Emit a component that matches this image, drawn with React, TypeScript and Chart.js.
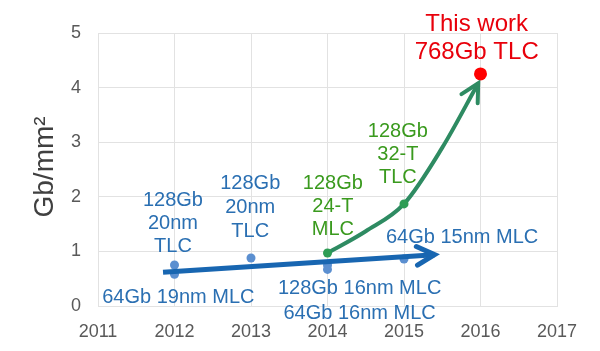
import React, { useEffect, useRef } from "react";
import { Chart, registerables } from "chart.js";

Chart.register(...registerables);

// ---- data ----
const yearTicks = [2011, 2012, 2013, 2014, 2015, 2016, 2017];
const densityTicks = [0, 1, 2, 3, 4, 5];

const blueYears = [2012, 2012, 2013, 2014, 2014, 2015];
const blueValues = [0.75, 0.58, 0.88, 0.75, 0.67, 0.86];

const greenYears = [2014, 2015];
const greenValues = [0.97, 1.87];

const redYears = [2016];
const redValues = [4.25];

const blueTrendYears = [2011.85, 2015.4];
const blueTrendValues = [0.62, 0.94];

const greenTrendYears = [2014, 2014.5, 2015, 2015.5, 2015.97];
const greenTrendValues = [0.97, 1.37, 1.87, 2.9, 4.08];

const labelTexts = [
  ["64Gb 19nm MLC"],
  ["128Gb 16nm MLC"],
  ["64Gb 16nm MLC"],
  ["128Gb", "20nm", "TLC"],
  ["128Gb", "20nm", "TLC"],
  ["128Gb", "24-T", "MLC"],
  ["128Gb", "32-T", "TLC"],
  ["64Gb 15nm MLC"],
  ["This work", "768Gb TLC"],
];
const labelYears = [2012.05, 2014.42, 2014.42, 2011.98, 2012.99, 2014.07, 2014.92, 2015.76, 2015.95];
const labelValues = [0.15, 0.32, -0.13, 1.94, 2.25, 2.25, 3.19, 1.26, 5.15];

const BLUE_TEXT = "#2a6fb2";
const GREEN_TEXT = "#3a9a1e";
const RED = "#e8000b";
const labelColors = [BLUE_TEXT, BLUE_TEXT, BLUE_TEXT, BLUE_TEXT, BLUE_TEXT, GREEN_TEXT, GREEN_TEXT, BLUE_TEXT, RED];
const labelSizes = [20, 20, 20, 20, 20, 20, 20, 20, 24];
const labelLineGaps = [23, 23, 23, 23, 24, 23, 23, 23, 28];

const FONT = "'Liberation Sans', Arial, sans-serif";

const pts = (xs: number[], ys: number[]) => xs.map((x, i) => ({ x, y: ys[i] }));

const arrowPlugin = {
  id: "arrowHeads",
  afterDatasetsDraw(chart: any) {
    const ctx = chart.ctx;
    chart.data.datasets.forEach((ds: any, i: number) => {
      if (!ds.arrow) return;
      const meta = chart.getDatasetMeta(i);
      const els = meta.data;
      const last = els[els.length - 1];
      let px = last.cp1x, py = last.cp1y;
      if (px === undefined || (Math.abs(px - last.x) < 0.5 && Math.abs(py - last.y) < 0.5)) {
        px = els[els.length - 2].x;
        py = els[els.length - 2].y;
      }
      const ang = Math.atan2(last.y - py, last.x - px);
      const len = 20;
      const spread = Math.PI / 6.5;
      ctx.save();
      ctx.strokeStyle = ds.borderColor;
      ctx.lineWidth = ds.borderWidth;
      ctx.lineCap = "round";
      ctx.lineJoin = "miter";
      ctx.beginPath();
      ctx.moveTo(last.x - len * Math.cos(ang - spread), last.y - len * Math.sin(ang - spread));
      ctx.lineTo(last.x, last.y);
      ctx.lineTo(last.x - len * Math.cos(ang + spread), last.y - len * Math.sin(ang + spread));
      ctx.stroke();
      ctx.restore();
    });
  },
};

const labelPlugin = {
  id: "textLabels",
  afterDraw(chart: any) {
    const ctx = chart.ctx;
    const xs = chart.scales.x;
    const ys = chart.scales.y;
    ctx.save();
    ctx.textAlign = "center";
    ctx.textBaseline = "middle";
    labelTexts.forEach((lines, i) => {
      const cx = xs.getPixelForValue(labelYears[i]);
      const cy = ys.getPixelForValue(labelValues[i]);
      ctx.fillStyle = labelColors[i];
      ctx.font = `${labelSizes[i]}px ${FONT}`;
      lines.forEach((t, j) => ctx.fillText(t, cx, cy + j * labelLineGaps[i]));
    });
    // y-axis title
    const area = chart.chartArea;
    const midY = (area.top + area.bottom) / 2;
    ctx.translate(53, midY + 48);
    ctx.rotate(-Math.PI / 2);
    ctx.textAlign = "left";
    ctx.textBaseline = "alphabetic";
    ctx.fillStyle = "#404040";
    ctx.font = `28px ${FONT}`;
    ctx.fillText("Gb/mm²", 0, 0);
    ctx.restore();
  },
};

export default function App() {
  const ref = useRef<HTMLCanvasElement>(null);
  useEffect(() => {
    if (!ref.current) return;
    const chart = new Chart(ref.current, {
      type: "scatter",
      data: {
        datasets: [
          {
            type: "line",
            data: pts(blueTrendYears, blueTrendValues),
            borderColor: "#1866b1",
            borderWidth: 5,
            pointRadius: 0,
            tension: 0,
            fill: false,
            arrow: true,
            order: 2,
          } as any,
          {
            type: "line",
            data: pts(greenTrendYears, greenTrendValues),
            borderColor: "#2e8b62",
            borderWidth: 4,
            pointRadius: 0,
            cubicInterpolationMode: "monotone",
            fill: false,
            arrow: true,
            order: 2,
          } as any,
          {
            data: pts(blueYears, blueValues),
            backgroundColor: "#5b8fd0",
            borderWidth: 0,
            pointRadius: 4.5,
            order: 3,
          },
          {
            data: pts(greenYears, greenValues),
            backgroundColor: "#2e9d55",
            borderWidth: 0,
            pointRadius: 4.5,
            order: 1,
          },
          {
            data: pts(redYears, redValues),
            backgroundColor: "#ff0000",
            borderWidth: 0,
            pointRadius: 6.5,
            order: 1,
          },
        ],
      },
      options: {
        animation: false,
        responsive: false,
        devicePixelRatio: 1,
        layout: { padding: { top: 33, right: 43, left: 0, bottom: 0 } },
        plugins: { legend: { display: false }, tooltip: { enabled: false } },
        scales: {
          x: {
            type: "linear",
            min: 2011,
            max: 2017,
            afterFit: (s: any) => { s.height = 45; },
            afterBuildTicks: (s: any) => { s.ticks = yearTicks.map((v) => ({ value: v })); },
            grid: { color: "#e2e2e2", drawTicks: false },
            border: { color: "#e2e2e2" },
            ticks: {
              padding: 15,
              color: "#595959",
              font: { size: 18, family: FONT },
              callback: (v: any) => String(v),
            },
          },
          y: {
            type: "linear",
            min: 0,
            max: 5,
            afterFit: (s: any) => { s.width = 98; },
            afterBuildTicks: (s: any) => { s.ticks = densityTicks.map((v) => ({ value: v })); },
            grid: { color: "#e2e2e2", drawTicks: false },
            border: { color: "#e2e2e2" },
            ticks: {
              padding: 17,
              color: "#595959",
              font: { size: 18, family: FONT },
            },
          },
        },
      } as any,
      plugins: [arrowPlugin, labelPlugin],
    });
    return () => chart.destroy();
  }, []);
  return (
    <div style={{ position: "absolute", left: 0, top: 0, width: 600, height: 351, background: "#fff" }}>
      <canvas ref={ref} width={600} height={351} />
    </div>
  );
}
